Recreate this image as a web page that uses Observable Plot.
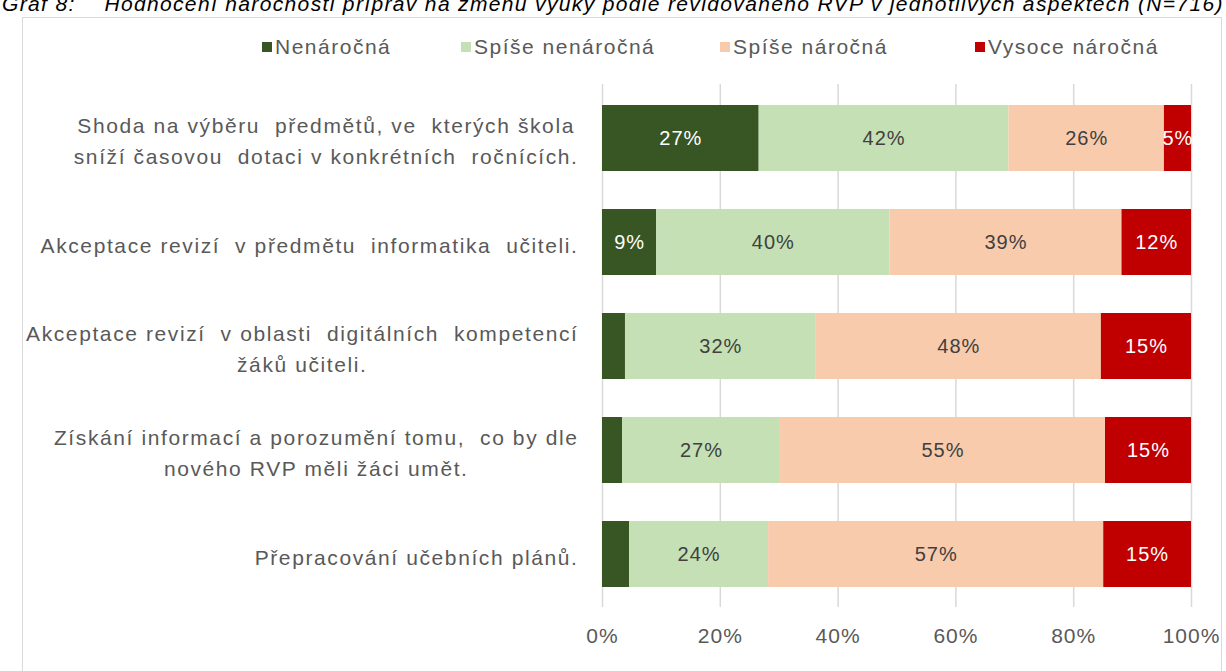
<!DOCTYPE html>
<html>
<head>
<meta charset="utf-8">
<script src="https://cdn.jsdelivr.net/npm/d3@7"></script>
<script src="https://cdn.jsdelivr.net/npm/@observablehq/plot@0.6"></script>
<style>
  html, body { margin: 0; padding: 0; background: #fff; }
  #wrap { position: relative; width: 1226px; height: 671px; overflow: hidden;
          font-family: "Liberation Sans", Arial, sans-serif; }
  #title { position: absolute; left: 2px; top: -6px; white-space: nowrap; font-style: italic;
           font-size: 21px; line-height: 20px; color: #000; letter-spacing: 1.35px; }
  #frame { position: absolute; left: 22px; top: 17px; width: 1200px; height: 720px;
           border: 1px solid #d9d9d9; box-sizing: border-box; }
  #legend { position: absolute; top: 36px; left: 262px; display: flex; font-size: 21px;
            color: #595959; letter-spacing: 1.5px; line-height: 22px; }
  .item { display: flex; align-items: center; }
  .item:nth-child(1) { width: 199px; }
  .item:nth-child(2) { width: 259px; }
  .item:nth-child(3) { width: 255px; }
  .sw { width: 10px; height: 10px; margin-right: 3px; }
  #chart { position: absolute; left: 0; top: 70px; }
</style>
</head>
<body>
<div id="wrap">
  <div id="title">Graf 8:&nbsp;&nbsp;&nbsp; Hodnocení náročnosti příprav na změnu výuky podle revidovaného RVP v jednotlivých aspektech (N=716)</div>
  <div id="frame"></div>
  <div id="legend"></div>
  <div id="chart"></div>
</div>
<script>
// ---- data ----
const categories = [
  "Shoda na výběru předmětů, ve kterých škola sníží časovou dotaci v konkrétních ročnících.",
  "Akceptace revizí v předmětu informatika učiteli.",
  "Akceptace revizí v oblasti digitálních kompetencí žáků učiteli.",
  "Získání informací a porozumění tomu, co by dle nového RVP měli žáci umět.",
  "Přepracování učebních plánů."
];
const categoryLines = [
  "Shoda na výběru  předmětů, ve  kterých škola\nsníží časovou  dotaci v konkrétních  ročnících.",
  "Akceptace revizí  v předmětu  informatika  učiteli.",
  "Akceptace revizí  v oblasti  digitálních  kompetencí\nžáků učiteli.",
  "Získání informací a porozumění tomu,  co by dle\nnového RVP měli žáci umět.",
  "Přepracování učebních plánů."
];
const series = ["Nenáročná", "Spíše nenáročná", "Spíše náročná", "Vysoce náročná"];
const seriesColors = ["#375623", "#C5E0B4", "#F8CBAD", "#C00000"];

const nenarocna      = [26.6,  9.2,  3.9,  3.4,  4.6];
const spiseNenarocna = [42.4, 39.6, 32.4, 26.8, 23.6];
const spiseNarocna   = [26.4, 39.4, 48.4, 55.2, 56.9];
const vysoceNarocna  = [ 4.6, 11.8, 15.3, 14.6, 14.9];

const labelsNenarocna      = ["27%", "9%", "", "", ""];
const labelsSpiseNenarocna = ["42%", "40%", "32%", "27%", "24%"];
const labelsSpiseNarocna   = ["26%", "39%", "48%", "55%", "57%"];
const labelsVysoceNarocna  = ["5%", "12%", "15%", "15%", "15%"];

const xTicks = [0, 20, 40, 60, 80, 100];

// ---- table for Plot ----
const valueSets = [nenarocna, spiseNenarocna, spiseNarocna, vysoceNarocna];
const labelSets = [labelsNenarocna, labelsSpiseNenarocna, labelsSpiseNarocna, labelsVysoceNarocna];
const data = [];
categories.forEach((c, i) => series.forEach((s, j) => {
  data.push({cat: c, series: s, value: valueSets[j][i], label: labelSets[j][i]});
}));
const whiteSeries = new Set([series[0], series[3]]);

// ---- legend ----
const legend = d3.select("#legend");
series.forEach((s, j) => {
  const it = legend.append("div").attr("class", "item");
  it.append("div").attr("class", "sw").style("background", seriesColors[j]);
  it.append("span").text(s);
});

// ---- chart ----
const font = "\"Liberation Sans\", Arial, sans-serif";
const chart = Plot.plot({
  width: 1226,
  height: 601,
  marginLeft: 602,
  marginRight: 35,
  marginTop: 14,
  marginBottom: 64,
  style: {fontFamily: font, fontSize: "20px", color: "#595959", background: "transparent", letterSpacing: "1px"},
  x: {domain: [0, 100]},
  y: {domain: categories, paddingInner: 0.37, paddingOuter: 0.185},
  color: {domain: series, range: seriesColors},
  marks: [
    Plot.gridX(xTicks, {stroke: "#d9d9d9", strokeOpacity: 1, strokeWidth: 1.5}),
    Plot.barX(data, Plot.stackX({x: "value", y: "cat", fill: "series"})),
    Plot.text(data, Plot.stackX({x: "value", y: "cat", z: "series",
      text: d => whiteSeries.has(d.series) ? d.label : "", fill: "white", fontSize: 20})),
    Plot.text(data, Plot.stackX({x: "value", y: "cat", z: "series",
      text: d => whiteSeries.has(d.series) ? "" : d.label, fill: "#404040", fontSize: 20})),
    Plot.axisX(xTicks, {tickSize: 0, tickPadding: 21, tickFormat: d => d + "%", label: null, fill: "#595959", fontSize: 21}),
    Plot.axisY({tickSize: 0, tickPadding: 24, label: null, lineHeight: 1.5, fill: "#595959", fontSize: 21,
      tickFormat: d => categoryLines[categories.indexOf(d)]})
  ]
});
document.getElementById("chart").appendChild(chart);

// wider tracking for category labels; center wrapped lines within each label block
const yLabelGroup = chart.querySelector('g[aria-label="y-axis tick label"]');
if (yLabelGroup) {
  yLabelGroup.style.letterSpacing = "1.6px";
  yLabelGroup.querySelectorAll("text").forEach(t => {
    const spans = t.querySelectorAll("tspan");
    if (spans.length > 1) {
      const w = Math.max(...Array.from(spans, s => s.getComputedTextLength()));
      t.setAttribute("text-anchor", "middle");
      spans.forEach(s => s.setAttribute("x", -w / 2));
    }
  });
}
</script>
</body>
</html>
